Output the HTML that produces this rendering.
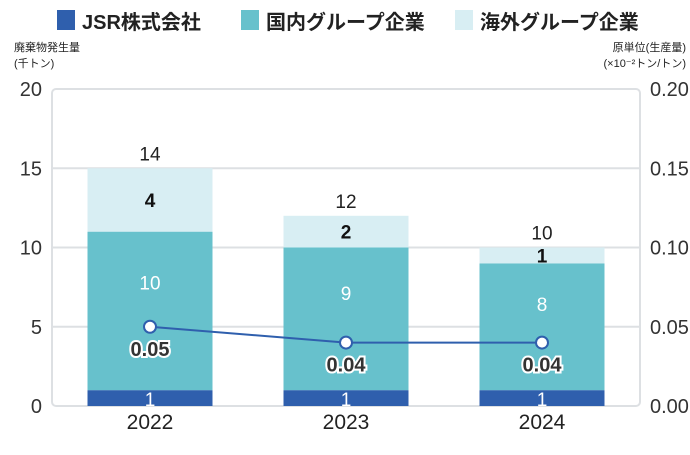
<!DOCTYPE html>
<html><head><meta charset="utf-8"><style>
body{margin:0;background:#fff;font-family:"Liberation Sans","Noto Sans CJK JP",sans-serif}
svg text{font-family:"Liberation Sans","Noto Sans CJK JP",sans-serif}
</style></head><body>
<svg id="c" width="690" height="450" xmlns="http://www.w3.org/2000/svg">
<g>
<rect x="57" y="10" width="18" height="20" fill="#2f5fad"/>
<text x="82" y="29" font-size="20" font-weight="bold" fill="#222">JSR株式会社</text>
<rect x="241" y="10" width="18" height="20" fill="#67c1cc"/>
<text x="266" y="29" font-size="20" font-weight="bold" fill="#222">国内グループ企業</text>
<rect x="455" y="10" width="18" height="20" fill="#d8eef3"/>
<text x="480" y="29" font-size="20" font-weight="bold" fill="#222">海外グループ企業</text>
</g>
<text x="14" y="51" font-size="11" fill="#222">廃棄物発生量</text>
<text x="14" y="67" font-size="11" fill="#222">(千トン)</text>
<text x="686" y="51" font-size="11" fill="#222" text-anchor="end">原単位(生産量)</text>
<text x="686" y="67" font-size="11" fill="#222" text-anchor="end">(×10⁻²トン/トン)</text>
<rect x="52" y="89" width="588" height="317" rx="4" fill="none" stroke="#dde0e3" stroke-width="2"/>
<g id="grid"></g><g id="bars"></g><g id="line"></g><g id="labels"></g>
</svg>
<script>
const years=["2022","2023","2024"];
const jsr=[1,1,1];
const domestic=[10,9,8];
const overseas=[4,2,1];
const totals=[14,12,10];
const intensity=[0.05,0.04,0.04];
const leftTicks=[0,5,10,15,20];
const rightTicks=["0.00","0.05","0.10","0.15","0.20"];
const NS="http://www.w3.org/2000/svg";
const X0=52,X1=640,Y0=406,Y1=89,BW=125;
const y=v=>Y0-v/20*(Y0-Y1);
const yr=v=>Y0-v/0.2*(Y0-Y1);
const xc=i=>X0+(X1-X0)/years.length*(i+0.5);
function mk(tag,attrs,parent,txt){const e=document.createElementNS(NS,tag);for(const k in attrs)e.setAttribute(k,attrs[k]);if(txt!==undefined)e.textContent=txt;document.getElementById(parent).appendChild(e);return e;}
leftTicks.forEach((t,i)=>{
 if(t>0&&t<20){const g=mk('line',{x1:X0,x2:X1,y1:y(t),y2:y(t),stroke:'#dde0e3','stroke-width':2},'grid');
 
 }
 const l=mk('text',{x:42,y:y(t)+7,'font-size':20,fill:'#333','text-anchor':'end'},'labels',t);
 
 
 const r=mk('text',{x:650,y:y(t)+7,'font-size':20,fill:'#333'},'labels',rightTicks[i]);
 
 
});
years.forEach((yrs,i)=>{
 const cx=xc(i),x=cx-BW/2;
 const segs=[[0,jsr[i],'#2f5fad','bar-jsr'],[jsr[i],jsr[i]+domestic[i],'#67c1cc','bar-domestic'],[jsr[i]+domestic[i],jsr[i]+domestic[i]+overseas[i],'#d8eef3','bar-overseas']];
 segs.forEach(s=>{const r=mk('rect',{x:x,y:y(s[1]),width:BW,height:y(s[0])-y(s[1]),fill:s[2]},'bars');
 
 });
 const a=mk('text',{x:cx,y:y(jsr[i]/2)+8,'font-size':19,fill:'#fff','text-anchor':'middle'},'labels',jsr[i]);
 
 
 const b=mk('text',{x:cx,y:y(jsr[i]+domestic[i]*0.68)+7,'font-size':19,fill:'#fff','text-anchor':'middle'},'labels',domestic[i]);
 
 
 const c=mk('text',{x:cx,y:y(jsr[i]+domestic[i]+overseas[i]/2)+7,'font-size':19,'font-weight':'bold',fill:'#111','text-anchor':'middle'},'labels',overseas[i]);
 
 
 const d=mk('text',{x:cx,y:y(jsr[i]+domestic[i]+overseas[i])-8,'font-size':19,fill:'#222','text-anchor':'middle'},'labels',totals[i]);
 
 
 const e=mk('text',{x:cx,y:429,'font-size':21,fill:'#222','text-anchor':'middle'},'labels',yrs);
 
 
});
const pts=intensity.map((v,i)=>xc(i)+','+yr(v)).join(' ');
const pl=mk('polyline',{points:pts,fill:'none',stroke:'#2f5fad','stroke-width':2},'line');


intensity.forEach((v,i)=>{
 const c=mk('circle',{cx:xc(i),cy:yr(v),r:6,fill:'#fff',stroke:'#2f5fad','stroke-width':2},'line');
 
 
 const t=mk('text',{x:xc(i),y:yr(v)+29,'font-size':20,'font-weight':'bold',fill:'#333','text-anchor':'middle',stroke:'#fff','stroke-width':4,'paint-order':'stroke'},'line',v.toFixed(2));
 
 
});
</script>
</body></html>
